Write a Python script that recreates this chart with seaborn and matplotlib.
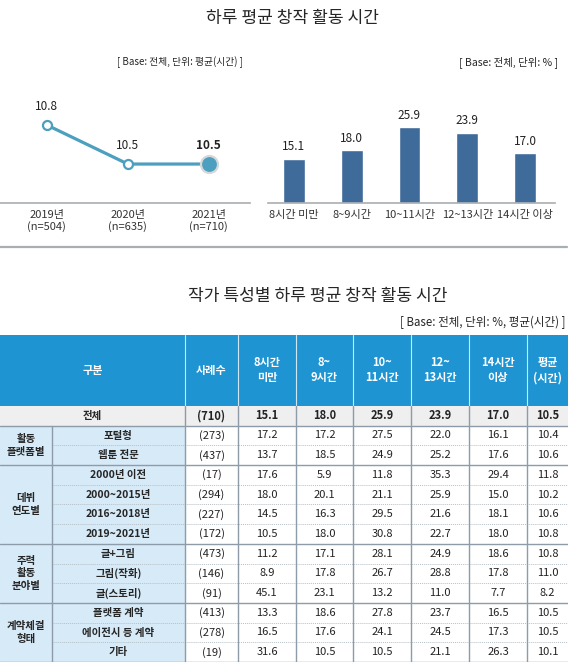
import numpy as np
import matplotlib
matplotlib.use('Agg')
import matplotlib.pyplot as plt
from matplotlib.patches import Rectangle
from matplotlib.lines import Line2D
import seaborn as sns

sns.set_style('white')
plt.rcParams['font.family'] = ['Noto Sans CJK KR', 'DejaVu Sans']

# --- data ---
years = ['2019년\n(n=504)', '2020년\n(n=635)', '2021년\n(n=710)']
avg_hours = [10.8, 10.5, 10.5]

hour_cats = ['8시간 미만', '8~9시간', '10~11시간', '12~13시간', '14시간 이상']
hour_pct = [15.1, 18.0, 25.9, 23.9, 17.0]

header = ['구분', '사례수', '8시간\n미만', '8~\n9시간', '10~\n11시간', '12~\n13시간', '14시간\n이상', '평균\n(시간)']
groups = ['활동\n플랫폼별', '데뷔\n연도별', '주력\n활동\n분야별', '계약체결\n형태']
group_sizes = [2, 4, 3, 3]
row_labels = ['전체', '포털형', '웹툰 전문', '2000년 이전', '2000~2015년', '2016~2018년', '2019~2021년',
              '글+그림', '그림(작화)', '글(스토리)', '플랫폼 계약', '에이전시 등 계약', '기타']
counts = [710, 273, 437, 17, 294, 227, 172, 473, 146, 91, 413, 278, 19]
under8 = [15.1, 17.2, 13.7, 17.6, 18.0, 14.5, 10.5, 11.2, 8.9, 45.1, 13.3, 16.5, 31.6]
h8_9 = [18.0, 17.2, 18.5, 5.9, 20.1, 16.3, 18.0, 17.1, 17.8, 23.1, 18.6, 17.6, 10.5]
h10_11 = [25.9, 27.5, 24.9, 11.8, 21.1, 29.5, 30.8, 28.1, 26.7, 13.2, 27.8, 24.1, 10.5]
h12_13 = [23.9, 22.0, 25.2, 35.3, 25.9, 21.6, 22.7, 24.9, 28.8, 11.0, 23.7, 24.5, 21.1]
over14 = [17.0, 16.1, 17.6, 29.4, 15.0, 18.1, 18.0, 18.6, 17.8, 7.7, 16.5, 17.3, 26.3]
avg_col = [10.5, 10.4, 10.6, 11.8, 10.2, 10.6, 10.8, 10.8, 11.0, 8.2, 10.5, 10.5, 10.1]

W, H = 580, 671
fig = plt.figure(figsize=(W / 100, H / 100), dpi=100)


def px_axes(x0, y0, x1, y1):
    return fig.add_axes([x0 / W, 1 - y1 / H, (x1 - x0) / W, (y1 - y0) / H])


teal = '#4C9FBE'
bar_blue = '#3F6B9A'
axis_gray = '#A9AEB2'

fig.text(292 / W, 1 - 18 / H, '하루 평균 창작 활동 시간', ha='center', va='center', fontsize=12.3)
fig.text(180 / W, 1 - 62 / H, '[ Base: 전체, 단위: 평균(시간) ]', ha='center', va='center', fontsize=7)
fig.text(509 / W, 1 - 62 / H, '[ Base: 전체, 단위: % ]', ha='center', va='center', fontsize=7.5)

# line chart
ax1 = px_axes(0, 90, 250, 203)
sns.lineplot(x=np.arange(len(avg_hours)), y=avg_hours, ax=ax1, color=teal, lw=2.3,
             marker='o', markersize=6.5, markerfacecolor='white', markeredgecolor=teal, markeredgewidth=1.6)
ax1.scatter([len(avg_hours) - 1], [avg_hours[-1]], s=150, color=teal, edgecolor='#D5D8DA', linewidth=1.6, zorder=5)
for i, v in enumerate(avg_hours):
    ax1.annotate(f'{v:.1f}', (i, v), xytext=(0, 9), textcoords='offset points', ha='center', va='bottom',
                 fontsize=8.5, fontweight='bold' if i == len(avg_hours) - 1 else 'normal', color='#222222')
ax1.set_xlim(-0.58, 2.51)
ax1.set_ylim(10.2, 11.07)
ax1.set_xticks(range(len(years)))
ax1.set_xticklabels(years, fontsize=8, color='#333333', linespacing=1.15)
ax1.tick_params(axis='x', length=0, pad=5)
ax1.set_yticks([])
ax1.set_ylabel('')
sns.despine(ax=ax1, left=True)
ax1.spines['bottom'].set_color(axis_gray)
ax1.spines['bottom'].set_linewidth(1.2)

# bar chart
ax2 = px_axes(268, 90, 555, 203)
sns.barplot(x=hour_cats, y=hour_pct, ax=ax2, color=bar_blue, width=0.38, saturation=1)
ax2.bar_label(ax2.containers[0], fmt='%.1f', padding=4, fontsize=8.5, color='#222222')
ax2.set_xlim(-0.45, 4.52)
ax2.set_ylim(0, 38.6)
ax2.tick_params(axis='x', length=0, pad=5, labelsize=8, labelcolor='#333333')
ax2.set_yticks([])
ax2.set_ylabel('')
sns.despine(ax=ax2, left=True)
ax2.spines['bottom'].set_color(axis_gray)
ax2.spines['bottom'].set_linewidth(1.2)

fig.add_artist(Line2D([0, 567 / W], [1 - 247 / H, 1 - 247 / H], color=axis_gray, lw=1.6))

# table
fig.text(318 / W, 1 - 296 / H, '작가 특성별 하루 평균 창작 활동 시간', ha='center', va='center', fontsize=12.3)
fig.text(565 / W, 1 - 322 / H, '[ Base: 전체, 단위: %, 평균(시간) ]', ha='right', va='center', fontsize=8.3)

col_w = [52, 133, 53, 58, 57, 58, 58, 58, 41]
edges = np.concatenate([[0], np.cumsum(col_w)])
n_rows = len(row_labels)
hdr_h = 3.6
ax3 = px_axes(0, 335, edges[-1], 662)
ax3.set_xlim(0, edges[-1])
ax3.set_ylim(n_rows, -hdr_h)
ax3.axis('off')

hdr_blue = '#1E95D2'
lab_blue = '#D7EAF7'
tot_gray = '#EFEFEF'
line_c = '#8D9CA8'

ax3.add_patch(Rectangle((0, -hdr_h), edges[-1], hdr_h, color=hdr_blue, lw=0))
for e in edges[2:-1]:
    ax3.plot([e, e], [-hdr_h, 0], color='#CFE6F3', lw=0.8)
hdr_x = [edges[2] / 2] + [(edges[i] + edges[i + 1]) / 2 for i in range(2, len(edges) - 1)]
for x, t in zip(hdr_x, header):
    ax3.text(x, -hdr_h / 2, t, ha='center', va='center', color='white', fontsize=8, fontweight='bold', linespacing=1.2)

# backgrounds
ax3.add_patch(Rectangle((0, 0), edges[-1], 1, color=tot_gray, lw=0))
ax3.add_patch(Rectangle((0, 1), edges[2], n_rows - 1, color=lab_blue, lw=0))

values = [under8, h8_9, h10_11, h12_13, over14, avg_col]
for r in range(n_rows):
    bold = 'bold' if r == 0 else 'normal'
    yc = r + 0.5
    if r == 0:
        ax3.text(edges[2] / 2, yc, row_labels[r], ha='center', va='center', fontsize=7.5, fontweight='bold')
    else:
        ax3.text((edges[1] + edges[2]) / 2, yc, row_labels[r], ha='center', va='center', fontsize=7.5, fontweight='bold')
    ax3.text((edges[2] + edges[3]) / 2, yc, f'({counts[r]})', ha='center', va='center', fontsize=8, fontweight=bold, color='#222222')
    for j, col in enumerate(values):
        ax3.text((edges[3 + j] + edges[4 + j]) / 2, yc, f'{col[r]:.1f}', ha='center', va='center',
                 fontsize=8, fontweight=bold, color='#222222')

# group labels and lines
start = 1
group_bounds = [0, 1]
for g, n in zip(groups, group_sizes):
    ax3.text(edges[1] / 2, start + n / 2, g, ha='center', va='center', fontsize=7.5, fontweight='bold', linespacing=1.35)
    for k in range(1, n):
        ax3.plot([edges[1], edges[-1]], [start + k, start + k], color='#B7C0C7', lw=0.7, ls=(0, (1, 1)))
    start += n
    group_bounds.append(start)
for b in group_bounds[1:]:
    ax3.plot([0, edges[-1]], [b, b], color=line_c, lw=1.0)
ax3.plot([edges[1], edges[1]], [1, n_rows], color=line_c, lw=1.0)
for e in edges[2:-1]:
    ax3.plot([e, e], [0, n_rows], color=line_c, lw=1.0)

fig.savefig('out.png', dpi=100)
